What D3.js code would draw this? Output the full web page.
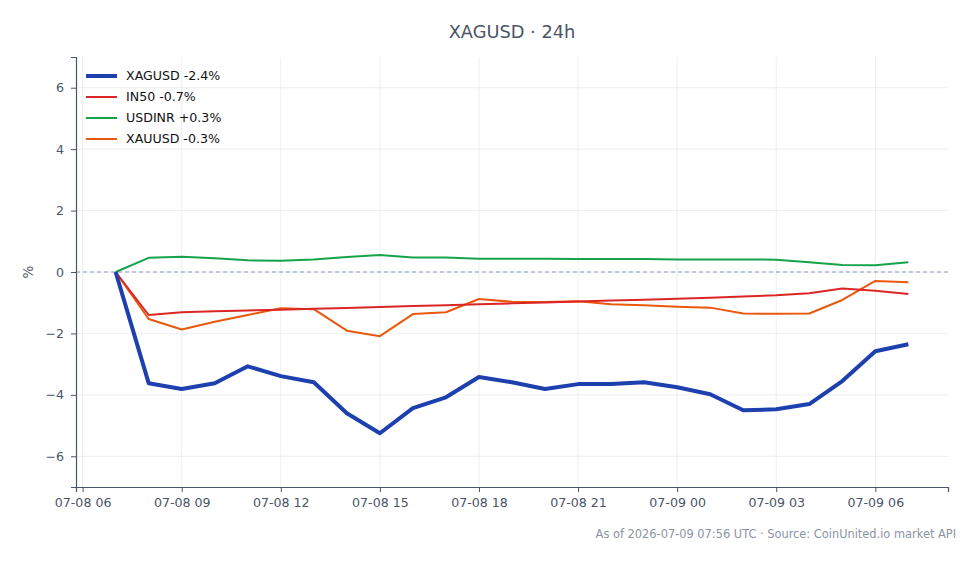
<!DOCTYPE html>
<html><head><meta charset="utf-8">
<script src="https://cdn.jsdelivr.net/npm/d3@7"></script>
<style>
html,body{margin:0;padding:0;background:#fff;}
svg{display:block;font-family:"DejaVu Sans",sans-serif;}
</style></head>
<body><svg id="chart" width="980" height="564"></svg>
<script>
const times = ["2026-07-08T07:00Z","2026-07-08T08:00Z","2026-07-08T09:00Z","2026-07-08T10:00Z","2026-07-08T11:00Z",
"2026-07-08T12:00Z","2026-07-08T13:00Z","2026-07-08T14:00Z","2026-07-08T15:00Z","2026-07-08T16:00Z",
"2026-07-08T17:00Z","2026-07-08T18:00Z","2026-07-08T19:00Z","2026-07-08T20:00Z","2026-07-08T21:00Z",
"2026-07-08T22:00Z","2026-07-08T23:00Z","2026-07-09T00:00Z","2026-07-09T01:00Z","2026-07-09T02:00Z",
"2026-07-09T03:00Z","2026-07-09T04:00Z","2026-07-09T05:00Z","2026-07-09T06:00Z","2026-07-09T07:00Z"];
const xagusd = [0,-3.62,-3.81,-3.62,-3.07,-3.39,-3.59,-4.60,-5.25,-4.43,-4.08,-3.42,-3.59,-3.81,-3.65,-3.65,-3.59,-3.75,-3.98,-4.50,-4.47,-4.30,-3.55,-2.58,-2.35];
const in50 = [0,-1.40,-1.31,-1.28,-1.25,-1.23,-1.20,-1.17,-1.14,-1.11,-1.08,-1.05,-1.02,-0.99,-0.96,-0.93,-0.90,-0.87,-0.84,-0.80,-0.76,-0.69,-0.54,-0.61,-0.72];
const usdinr = [0,0.46,0.50,0.45,0.38,0.37,0.41,0.49,0.55,0.47,0.47,0.43,0.43,0.43,0.42,0.42,0.42,0.41,0.41,0.41,0.40,0.32,0.23,0.22,0.32];
const xauusd = [0,-1.53,-1.87,-1.62,-1.40,-1.18,-1.21,-1.91,-2.09,-1.37,-1.31,-0.88,-0.97,-0.98,-0.95,-1.05,-1.08,-1.13,-1.16,-1.35,-1.36,-1.35,-0.91,-0.29,-0.33];
const seriesNames = ["XAGUSD -2.4%","IN50 -0.7%","USDINR +0.3%","XAUUSD -0.3%"];
const yTicks = [-6,-4,-2,0,2,4,6];
const title = "XAGUSD · 24h";
const footer = "As of 2026-07-09 07:56 UTC · Source: CoinUnited.io market API";

const series = [
  {name: seriesNames[0], values: xagusd, color: "#1e40af", width: 4},
  {name: seriesNames[1], values: in50, color: "#dc2626", width: 2},
  {name: seriesNames[2], values: usdinr, color: "#16a34a", width: 2},
  {name: seriesNames[3], values: xauusd, color: "#ea580c", width: 2}
];

const svg = d3.select("#chart");
const m = {left: 76, right: 32, top: 57, bottom: 77};
const W = 980, H = 564;
const dates = times.map(t => new Date(t));
const t0 = dates[0], t1 = dates[dates.length-1];
const pad = (t1 - t0) * 0.05;
const x = d3.scaleUtc().domain([new Date(+t0 - pad), new Date(+t1 + pad)]).range([m.left, W - m.right]);
const y = d3.scaleLinear().domain([-7, 7]).range([H - m.bottom, m.top]);
const xTicks = d3.utcHour.every(3).range(x.domain()[0], x.domain()[1]);
const fmt = d3.utcFormat("%m-%d %H");

const textCol = "#4a5568";
const grid = svg.append("g");
grid.selectAll("line.v").data(xTicks).join("line")
  .attr("x1", d => x(d)).attr("x2", d => x(d)).attr("y1", m.top).attr("y2", H - m.bottom)
  .attr("stroke", "#e6eaf0").attr("stroke-width", 0.8);
grid.selectAll("line.h").data(yTicks).join("line")
  .attr("x1", m.left).attr("x2", W - m.right).attr("y1", d => y(d)).attr("y2", d => y(d))
  .attr("stroke", "#e6eaf0").attr("stroke-width", 0.8);

svg.append("line").attr("x1", m.left).attr("x2", W - m.right).attr("y1", y(0)).attr("y2", y(0))
  .attr("stroke", "#8a9ab8").attr("stroke-width", 1).attr("stroke-dasharray", "4,3");

const line = d3.line().x((d, i) => x(dates[i])).y(d => y(d));
svg.append("g").selectAll("path").data(series.slice().reverse()).join("path")
  .attr("d", d => line(d.values)).attr("fill", "none")
  .attr("stroke", d => d.color).attr("stroke-width", d => d.width)
  .attr("stroke-linejoin", "round").attr("stroke-linecap", "butt");

const xAxis = svg.append("g").attr("transform", `translate(0,${H - m.bottom})`)
  .call(d3.axisBottom(x).tickValues(xTicks).tickFormat(fmt).tickSize(5).tickPadding(6));
const yAxis = svg.append("g").attr("transform", `translate(${m.left},0)`)
  .call(d3.axisLeft(y).tickValues(yTicks).tickFormat(d => d < 0 ? "\u2212" + Math.abs(d) : d).tickSize(5).tickPadding(7));
[xAxis, yAxis].forEach(a => {
  a.select(".domain").attr("stroke", textCol).attr("stroke-width", 1.2);
  a.selectAll(".tick line").attr("stroke", textCol);
  a.selectAll(".tick text").attr("fill", textCol).style("font-size", "12.6px").style("font-family", "DejaVu Sans");
});

svg.append("text").attr("x", 33).attr("y", y(0)).attr("transform", `rotate(-90,33,${y(0)})`)
  .attr("text-anchor", "middle").attr("fill", textCol).style("font-size", "13.5px").text("%");

svg.append("text").attr("x", 512).attr("y", 38).attr("text-anchor", "middle")
  .attr("fill", textCol).style("font-size", "17.8px").text(title);

svg.append("text").attr("x", 956).attr("y", 538).attr("text-anchor", "end")
  .attr("fill", "#8a94a3").style("font-size", "11.4px").text(footer);

const lg = svg.append("g").selectAll("g").data(series).join("g")
  .attr("transform", (d, i) => `translate(86,${76 + i * 21})`);
lg.append("line").attr("x1", 0).attr("x2", 31).attr("y1", 0).attr("y2", 0)
  .attr("stroke", d => d.color).attr("stroke-width", d => d.width);
lg.append("text").attr("x", 40).attr("y", 0).attr("dy", "0.35em")
  .attr("fill", "#111").style("font-size", "12.6px").text(d => d.name);
</script></body></html>
